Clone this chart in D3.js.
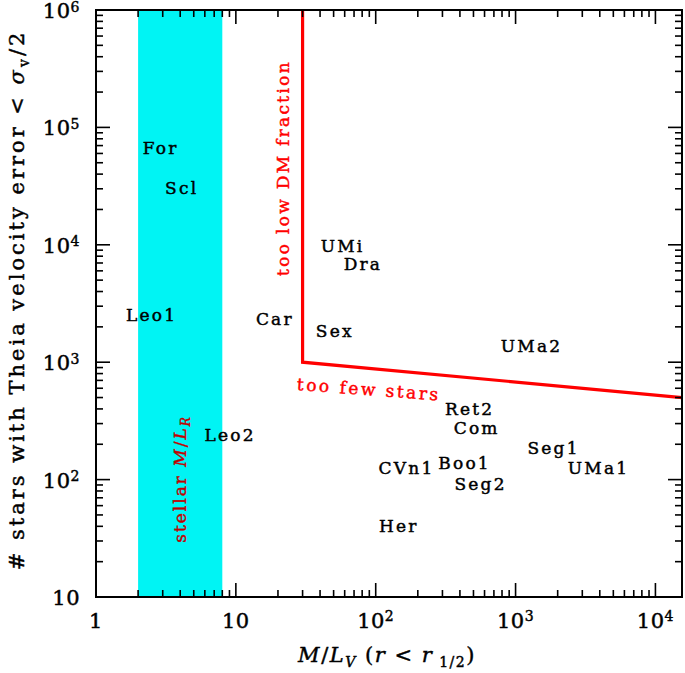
<!DOCTYPE html>
<html><head><meta charset="utf-8">
<script src="https://cdn.jsdelivr.net/npm/d3@7/dist/d3.min.js"></script>
<style>body{margin:0;background:#fff}svg{display:block}text{font-family:"DejaVu Serif",serif}</style>
</head><body>
<script>
const galaxies = ["For","Scl","Leo1","Leo2","Car","UMi","Dra","Sex","UMa2","Ret2","Com","Seg1","UMa1","CVn1","Boo1","Seg2","Her"];
const massToLight = [2.9,4.1,2.5,9.1,19,58,81,51,1300,470,527,1870,3920,166,432,562,146];
const nStars = [66800,30500,2520,240,2330,9770,6860,1840,1374,399,275,186,126,126,138,92,40];
const xTickExps = [0,1,2,3,4];
const yTickExps = [1,2,3,4,5,6];
const stellarBand = [2,8];
const dmLimitX = 30;
const boundaryLine = [[30,1e6],[30,1000],[15500,500]];

const W=685,H=673;
const L=96,R=682,T=10,B=597;
const svg=d3.select("body").append("svg").attr("width",W).attr("height",H);
const x=d3.scaleLog().domain([1,Math.pow(10,4.19)]).range([L,R]);
const y=d3.scaleLog().domain([10,1e6]).range([B,T]);

function heavy(sel,c){return sel.attr("stroke",c).attr("stroke-width",0.45).attr("paint-order","stroke");}

// stellar band
svg.append("rect").attr("x",x(stellarBand[0])).attr("y",T)
  .attr("width",x(stellarBand[1])-x(stellarBand[0])).attr("height",B-T).attr("fill","#00f4f4");

// red boundary
svg.append("path").attr("d",d3.line().x(d=>x(d[0])).y(d=>y(d[1]))(boundaryLine))
  .attr("fill","none").attr("stroke","#ff0000").attr("stroke-width",3.2);

// frame
svg.append("rect").attr("x",L).attr("y",T).attr("width",R-L).attr("height",B-T)
  .attr("fill","none").attr("stroke","#000").attr("stroke-width",2);

const MAJ=14,MIN=7;
const tk=svg.append("g").attr("stroke","#000").attr("stroke-width",1.6);
const xd=x.domain();
for(let e=0;e<=4;e++){for(let m=1;m<=9;m++){const v=m*Math.pow(10,e);if(v<xd[0]||v>xd[1])continue;const px=x(v);const len=m===1?MAJ:MIN;
  tk.append("line").attr("x1",px).attr("x2",px).attr("y1",B).attr("y2",B-len);
  tk.append("line").attr("x1",px).attr("x2",px).attr("y1",T).attr("y2",T+len);}}
for(let e=1;e<=6;e++){for(let m=1;m<=9;m++){const v=m*Math.pow(10,e);if(v>1e6)continue;const py=y(v);const len=m===1?MAJ:MIN;
  tk.append("line").attr("y1",py).attr("y2",py).attr("x1",L).attr("x2",L+len);
  tk.append("line").attr("y1",py).attr("y2",py).attr("x1",R).attr("x2",R-len);}}

// tick labels
xTickExps.forEach(e=>{
  const t=heavy(svg.append("text").attr("x",x(Math.pow(10,e))).attr("y",628).attr("text-anchor","middle").attr("font-size",21).attr("letter-spacing",0.5),"#000");
  if(e===0)t.text("1");else if(e===1)t.text("10");
  else{t.append("tspan").text("10");t.append("tspan").attr("dy",-7).attr("font-size",14).text(e);}
});
yTickExps.forEach(e=>{
  const t=heavy(svg.append("text").attr("x",80).attr("y",y(Math.pow(10,e))+8).attr("text-anchor","end").attr("font-size",21).attr("letter-spacing",0.5),"#000");
  if(e===1)t.text("10");
  else{t.append("tspan").text("10");t.append("tspan").attr("dy",-6.5).attr("font-size",14).text(e);}
});

// galaxy labels
galaxies.forEach((g,i)=>{
  heavy(svg.append("text").attr("x",x(massToLight[i])).attr("y",y(nStars[i])).attr("dy","0.36em")
    .attr("text-anchor","middle").attr("font-size",17).attr("letter-spacing",2.2).attr("fill","#000").text(g),"#000");
});

// annotations
heavy(svg.append("text").attr("transform",`translate(${x(dmLimitX)-20},${168}) rotate(-90)`)
  .attr("text-anchor","middle").attr("dy","0.36em").attr("font-size",17).attr("letter-spacing",2.3).attr("fill","#ff0000").text("too low DM fraction"),"#ff0000");
heavy(svg.append("text").attr("transform",`translate(${x(dmLimitX)-6},${390}) rotate(4.2)`)
  .attr("text-anchor","start").attr("font-size",17).attr("letter-spacing",2.5).attr("fill","#ff0000").text("too few stars"),"#ff0000");
const st=heavy(svg.append("text").attr("transform",`translate(${(x(stellarBand[0])+x(stellarBand[1]))/2+6},${479}) rotate(-90)`)
  .attr("text-anchor","middle").attr("font-size",17).attr("letter-spacing",2).attr("fill","#c00000"),"#c00000");
st.append("tspan").text("stellar ");
st.append("tspan").attr("font-style","italic").text("M");
st.append("tspan").text("/");
st.append("tspan").attr("font-style","italic").text("L");
st.append("tspan").attr("font-style","italic").attr("font-size",12).attr("dy",4).text("R");

// axis titles
const yl=heavy(svg.append("text").attr("transform",`translate(24,300) rotate(-90)`).attr("text-anchor","middle").attr("font-size",21).attr("letter-spacing",3),"#000");
yl.append("tspan").text("# stars with Theia velocity error < ");
yl.append("tspan").attr("font-style","italic").text("σ");
yl.append("tspan").attr("font-size",14).attr("dy",5).text("v");
yl.append("tspan").attr("dy",-5).text("/2");

const xl=heavy(svg.append("text").attr("x",387).attr("y",662).attr("text-anchor","middle").attr("font-size",21).attr("letter-spacing",1.5),"#000");
xl.append("tspan").attr("font-style","italic").text("M");
xl.append("tspan").text("/");
xl.append("tspan").attr("font-style","italic").text("L");
xl.append("tspan").attr("font-style","italic").attr("font-size",14).attr("dy",5).text("V");
xl.append("tspan").attr("dy",-5).text("  (");
xl.append("tspan").attr("font-style","italic").text("r");
xl.append("tspan").text(" < ");
xl.append("tspan").attr("font-style","italic").text("r");
xl.append("tspan").attr("font-size",14).attr("dy",5).text(" 1/2");
xl.append("tspan").attr("dy",-5).text(")");
</script>
</body></html>
